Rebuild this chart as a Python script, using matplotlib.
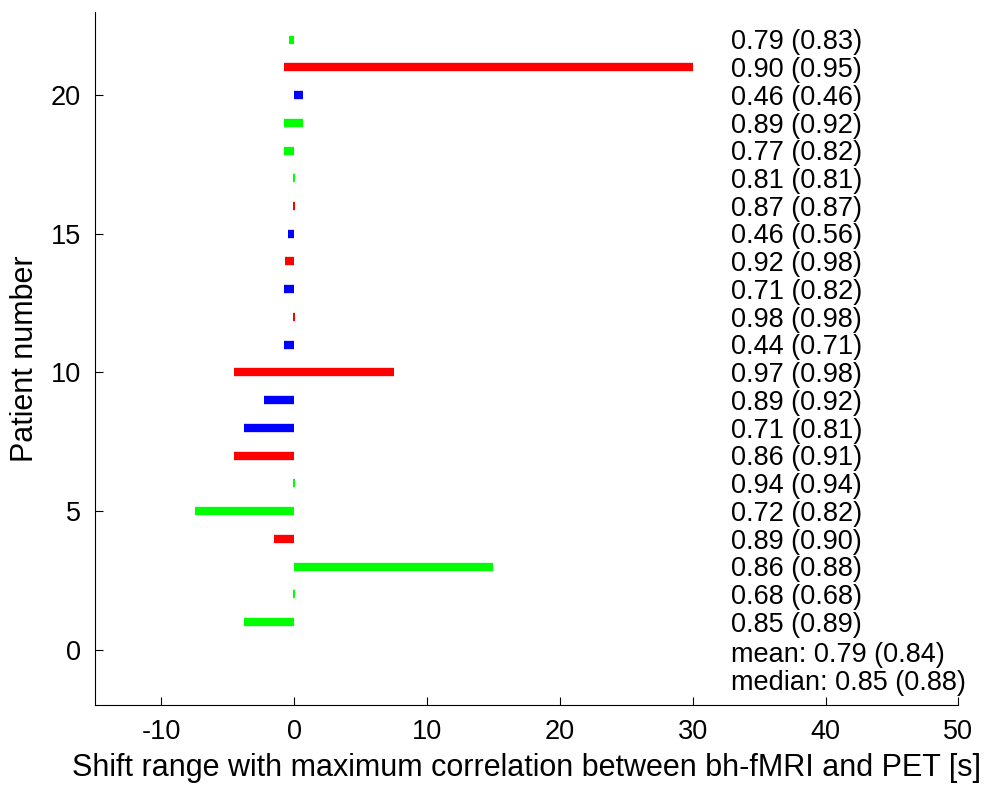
import matplotlib.pyplot as plt

plt.rcParams['font.family'] = ['Liberation Sans', 'DejaVu Sans']
plt.rcParams['axes.unicode_minus'] = False

patients = list(range(1, 23))
shift_start = [-3.75, -0.08, 0.0, -1.5, -7.5, -0.08, -4.5, -3.75, -2.25, -4.5, -0.75,
               -0.08, -0.75, -0.68, -0.45, -0.08, -0.08, -0.75, -0.75, 0.0, -0.75, -0.4]
shift_end = [0.0, 0.08, 15.0, 0.0, 0.0, 0.08, 0.0, 0.0, 0.0, 7.5, 0.0,
             0.08, 0.0, 0.0, 0.0, 0.08, 0.08, 0.0, 0.7, 0.7, 30.0, 0.0]
bar_colors = ['#00ff00', '#00ff00', '#00ff00', '#ff0000', '#00ff00', '#00ff00', '#ff0000',
              '#0000ff', '#0000ff', '#ff0000', '#0000ff', '#ff0000', '#0000ff', '#ff0000',
              '#0000ff', '#ff0000', '#00ff00', '#00ff00', '#00ff00', '#0000ff', '#ff0000',
              '#00ff00']
corr = ['0.85 (0.89)', '0.68 (0.68)', '0.86 (0.88)', '0.89 (0.90)', '0.72 (0.82)',
        '0.94 (0.94)', '0.86 (0.91)', '0.71 (0.81)', '0.89 (0.92)', '0.97 (0.98)',
        '0.44 (0.71)', '0.98 (0.98)', '0.71 (0.82)', '0.92 (0.98)', '0.46 (0.56)',
        '0.87 (0.87)', '0.81 (0.81)', '0.77 (0.82)', '0.89 (0.92)', '0.46 (0.46)',
        '0.90 (0.95)', '0.79 (0.83)']
summary = ['mean: 0.79 (0.84)', 'median: 0.85 (0.88)']

fig = plt.figure(figsize=(9.89, 7.88), dpi=100)
ax = fig.add_axes([0.096, 0.105, 0.873, 0.88])

for p, s, e, c in zip(patients, shift_start, shift_end, bar_colors):
    ax.plot([s, e], [p, p], color=c, linewidth=6.0, solid_capstyle='butt')

for p, t in zip(patients, corr):
    ax.text(32.9, p - 0.1, t, fontsize=19.5, va='center', ha='left')
for i, t in enumerate(summary):
    ax.text(32.9, -0.2 - i, t, fontsize=19.5, va='center', ha='left')

ax.set_xlim(-15, 50)
ax.set_ylim(-2, 23)
ax.set_xticks([-10, 0, 10, 20, 30, 40, 50])
ax.set_yticks([0, 5, 10, 15, 20])
ax.spines['top'].set_visible(False)
ax.spines['right'].set_visible(False)
ax.tick_params(direction='in', labelsize=19.5, length=6, pad=10)
ax.set_xlabel('Shift range with maximum correlation between bh-fMRI and PET [s]', fontsize=22, labelpad=6)
ax.set_ylabel('Patient number', fontsize=22, labelpad=8)

fig.savefig('out.png', dpi=100)
